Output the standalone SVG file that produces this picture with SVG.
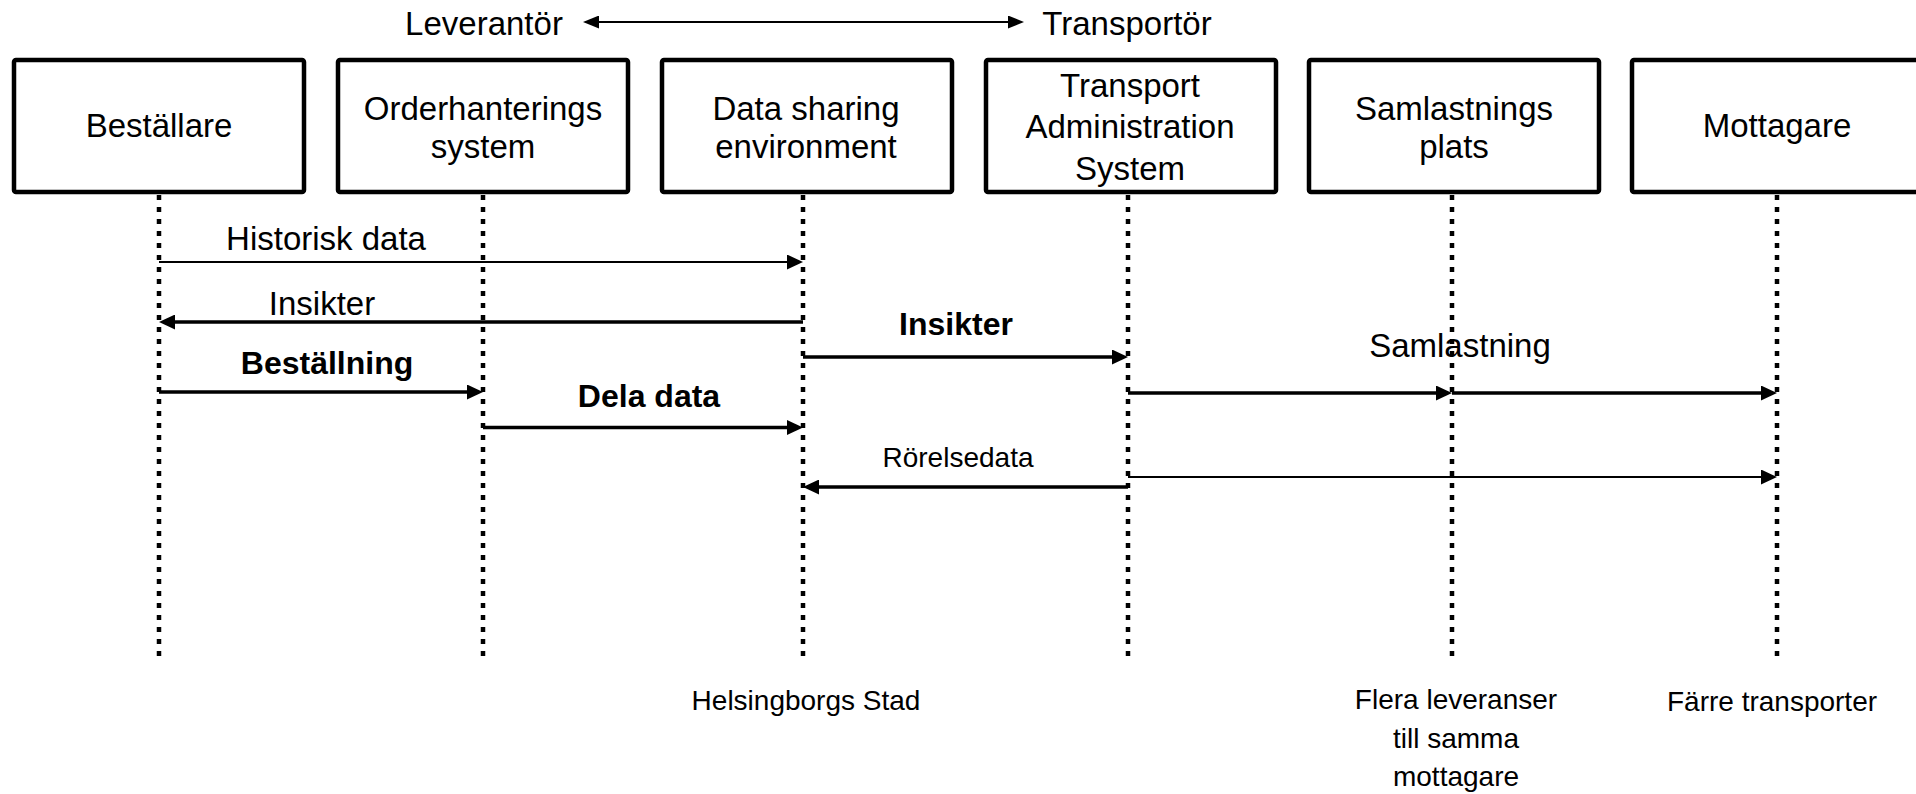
<svg xmlns="http://www.w3.org/2000/svg" width="1916" height="794" viewBox="0 0 1916 794">
<style>
.box{fill:#fff;stroke:#000;stroke-width:4.5}
.life{stroke:#000;stroke-width:4.5;stroke-dasharray:5 7;fill:none}
.t{font-family:"Liberation Sans",Arial,sans-serif;font-size:33px;fill:#000;text-anchor:middle}
.b{font-weight:bold;font-size:32px}
.s{font-size:28px}
.m{stroke:#000;fill:none;marker-end:url(#ah)}
.thin{stroke-width:2}
.thick{stroke-width:3.5}
</style>
<defs>
<marker id="ah" markerUnits="userSpaceOnUse" viewBox="0 0 16 15" refX="8" refY="7.5" markerWidth="16" markerHeight="15" orient="auto"><path d="M0,0L16,7.5L0,15z" fill="#000"/></marker>
<marker id="ah2" markerUnits="userSpaceOnUse" viewBox="0 0 16 13" refX="8" refY="6.5" markerWidth="16" markerHeight="13" orient="auto-start-reverse"><path d="M0,0L16,6.5L0,13z" fill="#000"/></marker>
</defs>
<rect width="1916" height="794" fill="#fff"/>

<g id="header">
<text class="t" x="484" y="35">Leverantör</text>
<text class="t" x="1127" y="35">Transportör</text>
<line x1="591" y1="22" x2="1016" y2="22" stroke="#000" stroke-width="2" marker-start="url(#ah2)" marker-end="url(#ah2)"/>
</g>

<g id="bestallare">
<rect class="box" x="14" y="60" width="290" height="132" rx="2"/>
<text class="t" x="159" y="137">Beställare</text>
<line class="life" x1="159" y1="195" x2="159" y2="661"/>
</g>
<g id="orderhantering">
<rect class="box" x="338" y="60" width="290" height="132" rx="2"/>
<text class="t" x="483" y="120">Orderhanterings</text>
<text class="t" x="483" y="158">system</text>
<line class="life" x1="483" y1="195" x2="483" y2="661"/>
</g>
<g id="datasharing">
<rect class="box" x="662" y="60" width="290" height="132" rx="2"/>
<text class="t" x="806" y="120">Data sharing</text>
<text class="t" x="806" y="158">environment</text>
<line class="life" x1="803" y1="195" x2="803" y2="661"/>
</g>
<g id="tas">
<rect class="box" x="986" y="60" width="290" height="132" rx="2"/>
<text class="t" x="1130" y="97">Transport</text>
<text class="t" x="1130" y="138">Administration</text>
<text class="t" x="1130" y="180">System</text>
<line class="life" x1="1128" y1="195" x2="1128" y2="661"/>
</g>
<g id="samlastningsplats">
<rect class="box" x="1309" y="60" width="290" height="132" rx="2"/>
<text class="t" x="1454" y="120">Samlastnings</text>
<text class="t" x="1454" y="158">plats</text>
<line class="life" x1="1452" y1="195" x2="1452" y2="661"/>
</g>
<g id="mottagare">
<rect class="box" x="1632" y="60" width="290" height="132" rx="2"/>
<text class="t" x="1777" y="137">Mottagare</text>
<line class="life" x1="1777" y1="195" x2="1777" y2="661"/>
</g>

<g id="connectors">
<line class="m thin" x1="159" y1="262" x2="795" y2="262"/>
<text class="t" x="326" y="250">Historisk data</text>
<line class="m thick" x1="803" y1="322" x2="167" y2="322"/>
<text class="t" x="322" y="315">Insikter</text>
<line class="m thick" x1="803" y1="357" x2="1120" y2="357"/>
<text class="t b" x="956" y="335">Insikter</text>
<line class="m thick" x1="159" y1="392" x2="475" y2="392"/>
<text class="t b" x="327" y="374">Beställning</text>
<line class="m thick" x1="483" y1="427.5" x2="795" y2="427.5"/>
<text class="t b" x="649" y="407">Dela data</text>
<line class="m thick" x1="1128" y1="393" x2="1444" y2="393"/>
<line class="m thick" x1="1452" y1="393" x2="1769" y2="393"/>
<text class="t" x="1460" y="357">Samlastning</text>
<line class="m thin" x1="1128" y1="477" x2="1769" y2="477"/>
<line class="m thick" x1="1128" y1="487" x2="811" y2="487"/>
<text class="t s" x="958" y="467">Rörelsedata</text>
</g>

<g id="notes">
<text class="t s" x="806" y="710">Helsingborgs Stad</text>
<text class="t s" x="1456" y="709">Flera leveranser</text>
<text class="t s" x="1456" y="748">till samma</text>
<text class="t s" x="1456" y="786">mottagare</text>
<text class="t s" x="1772" y="711">Färre transporter</text>
</g>
</svg>
